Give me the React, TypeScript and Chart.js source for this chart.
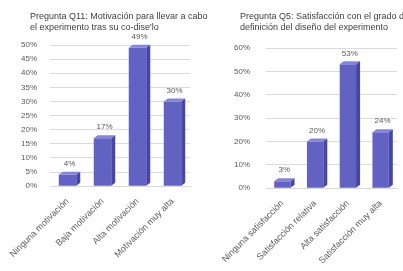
import React, { useEffect, useRef } from "react";
import { Chart, registerables } from "chart.js";
Chart.register(...registerables);

const leftTitle1 = "Pregunta Q11: Motivación para llevar a cabo";
const leftTitle2 = "el experimento tras su co-dise'lo";
const leftCategories = ["Ninguna motivación", "Baja motivación", "Alta motivación", "Motivación muy alta"];
const leftValues = [4, 17, 49, 30];
const leftMax = 50;
const leftStep = 5;

const rightTitle1 = "Pregunta Q5: Satisfacción con el grado de";
const rightTitle2 = "definición del diseño del experimento";
const rightCategories = ["Ninguna satisfacción", "Satisfacción relativa", "Alta satisfacción", "Satisfacción muy alta"];
const rightValues = [3, 20, 53, 24];
const rightMax = 60;
const rightStep = 10;

const FONT = "'Liberation Sans', Arial, sans-serif";
const DX = 4;
const DY = 3;

const bar3d = {
  id: "bar3d",
  afterDatasetsDraw(chart: any) {
    const ctx = chart.ctx;
    const meta = chart.getDatasetMeta(0);
    const vals = chart.data.datasets[0].data;
    meta.data.forEach((el: any, i: number) => {
      const { x, y, base, width } = el.getProps(["x", "y", "base", "width"], true);
      const l = x - width / 2;
      const r = x + width / 2;
      ctx.save();
      ctx.fillStyle = "#8585d6";
      ctx.beginPath();
      ctx.moveTo(l, y);
      ctx.lineTo(l + DX, y - DY);
      ctx.lineTo(r + DX, y - DY);
      ctx.lineTo(r, y);
      ctx.closePath();
      ctx.fill();
      ctx.fillStyle = "#4646a6";
      ctx.beginPath();
      ctx.moveTo(r, y);
      ctx.lineTo(r + DX, y - DY);
      ctx.lineTo(r + DX, base - DY);
      ctx.lineTo(r, base);
      ctx.closePath();
      ctx.fill();
      ctx.fillStyle = "#595959";
      ctx.font = "8px " + FONT;
      ctx.textAlign = "center";
      ctx.textBaseline = "bottom";
      ctx.fillText(vals[i] + "%", x + DX / 2, y - DY - 4);
      ctx.restore();
    });
  },
};

function BarChart(props: {
  labels: string[];
  values: number[];
  max: number;
  step: number;
  padding: any;
  tickPad: number;
  axisWidth: number;
  width: number;
}) {
  const ref = useRef<HTMLCanvasElement>(null);
  useEffect(() => {
    const chart = new Chart(ref.current as HTMLCanvasElement, {
      type: "bar",
      data: {
        labels: props.labels,
        datasets: [
          {
            data: props.values,
            backgroundColor: "#6262c2",
            barPercentage: 0.5,
            categoryPercentage: 1,
          },
        ],
      },
      options: {
        animation: false,
        responsive: false,
        layout: { padding: props.padding },
        plugins: { legend: { display: false }, tooltip: { enabled: false } },
        scales: {
          x: {
            grid: { display: false },
            border: { color: "#d9d9d9" },
            ticks: {
              color: "#595959",
              font: { size: 9, family: FONT },
              maxRotation: 45,
              minRotation: 45,
              padding: 2,
            },
          },
          y: {
            min: 0,
            max: props.max,
            grid: { color: "#dcdcdc", drawTicks: false },
            border: { display: false },
            afterFit: (scale: any) => {
              scale.width = props.axisWidth;
            },
            ticks: {
              stepSize: props.step,
              color: "#595959",
              font: { size: 8, family: FONT },
              padding: props.tickPad,
              callback: (v: any) => v + "%",
            },
          },
        },
      },
      plugins: [bar3d],
    });
    return () => chart.destroy();
  }, []);
  return <canvas ref={ref} width={props.width} height={271} style={{ display: "block" }} />;
}

const titleStyle: React.CSSProperties = {
  position: "absolute",
  top: 11,
  fontFamily: FONT,
  fontSize: 9,
  lineHeight: "11px",
  color: "#404040",
  whiteSpace: "nowrap",
};

export default function App() {
  useEffect(() => {
    document.body.style.margin = "0";
  }, []);
  return (
    <div style={{ position: "relative", width: 403, height: 271, overflow: "hidden", background: "#fff" }}>
      <div style={{ position: "absolute", left: 0, top: 0, width: 200, height: 271 }}>
        <BarChart
          labels={leftCategories}
          values={leftValues}
          max={leftMax}
          step={leftStep}
          padding={{ top: 45, left: 4, right: 10, bottom: 9 }}
          tickPad={13}
          axisWidth={46}
          width={200}
        />
      </div>
      <div style={{ position: "absolute", left: 200, top: 0, width: 203, height: 271 }}>
        <BarChart
          labels={rightCategories}
          values={rightValues}
          max={rightMax}
          step={rightStep}
          padding={{ top: 48, left: 4, right: 6, bottom: 3 }}
          tickPad={16}
          axisWidth={62}
          width={203}
        />
      </div>
      <div style={{ ...titleStyle, left: 30 }}>
        {leftTitle1}
        <br />
        {leftTitle2}
      </div>
      <div style={{ ...titleStyle, left: 240 }}>
        {rightTitle1}
        <br />
        {rightTitle2}
      </div>
    </div>
  );
}
